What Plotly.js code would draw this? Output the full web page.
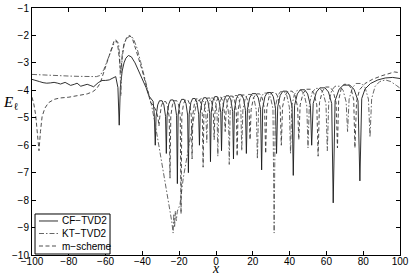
<!DOCTYPE html>
<html>
<head>
<meta charset="utf-8">
<script src="https://cdn.plot.ly/plotly-3.0.1.min.js"></script>
<style>html,body{margin:0;padding:0;background:#fff;}#chart{width:411px;height:278px;}</style>
</head>
<body>
<div id="chart"></div>
<script>
// ---- data ----
const seriesNames = ["CF\u2212TVD2", "KT\u2212TVD2", "m\u2212scheme"];
const xTicks = [-100, -80, -60, -40, -20, 0, 20, 40, 60, 80, 100];
const yTicks = [-10, -9, -8, -7, -6, -5, -4, -3, -2, -1];

const cfX = [-100,-98,-96,-94,-92,-90,-88,-86,-84.5,-82,-80,-79,-77,-75.5,-73.5,-71.5,-70,-68,-66.5,-64,-62,-60,-58,-56,-54.5,-53.3,-52.6,-52,-51,-50,-49,-47.6,-46,-44,-42,-40,-38,-36.5,-35.5,-34.2,-33.6,-33,
 -32.58,-31.68,-30.72,-29.28,-28.32,-27.42,-27,
 -26.58,-25.68,-24.72,-23.28,-22.32,-21.42,-21,
 -20.58,-19.68,-18.72,-17.28,-16.32,-15.42,-15,
 -14.58,-13.68,-12.72,-11.28,-10.32,-9.42,-9,
 -8.58,-7.68,-6.72,-5.28,-4.32,-3.42,-3,
 -2.58,-1.68,-0.72,0.72,1.68,2.58,3,
 3.46,4.43,5.47,7.03,8.07,9.05,9.5,
 9.99,11.04,12.16,13.84,14.96,16.01,16.5,
 17.08,18.33,19.65,21.65,22.97,24.22,24.8,
 25.37,26.58,27.88,29.82,31.12,32.33,32.9,
 33.54,34.9,36.36,38.54,40.0,41.36,42,
 42.7,44.2,45.8,48.2,49.8,51.3,52,
 52.82,54.57,56.45,59.25,61.13,62.88,63.7,
 64.72,66.89,69.21,72.69,75.01,77.19,78.2,
 79.2,81,84,88,92,96,100];
const cfY = [-3.60,-3.63,-3.68,-3.72,-3.74,-3.73,-3.71,-3.74,-3.77,-3.71,-3.77,-3.82,-3.78,-3.74,-3.85,-3.80,-3.78,-3.83,-3.87,-3.72,-3.64,-3.64,-3.62,-3.55,-3.50,-3.90,-5.27,-3.90,-3.30,-3.00,-2.83,-2.73,-2.78,-3.00,-3.30,-3.60,-3.90,-4.20,-4.30,-4.40,-4.80,-6.00,
 -4.95,-4.53,-4.38,-4.38,-4.53,-4.95,-6.3,
 -4.92,-4.50,-4.35,-4.35,-4.50,-4.92,-7.4,
 -4.90,-4.48,-4.33,-4.33,-4.48,-4.90,-7.0,
 -4.87,-4.45,-4.30,-4.30,-4.45,-4.87,-6.0,
 -4.84,-4.42,-4.27,-4.27,-4.42,-4.84,-6.6,
 -4.80,-4.38,-4.23,-4.23,-4.38,-4.80,-6.2,
 -4.77,-4.35,-4.20,-4.20,-4.35,-4.77,-6.5,
 -4.73,-4.31,-4.16,-4.16,-4.31,-4.73,-6.3,
 -4.69,-4.27,-4.12,-4.12,-4.27,-4.69,-6.9,
 -4.65,-4.23,-4.08,-4.08,-4.23,-4.65,-6.3,
 -4.60,-4.18,-4.03,-4.03,-4.18,-4.60,-7.1,
 -4.55,-4.13,-3.98,-3.98,-4.13,-4.55,-6.0,
 -4.48,-4.06,-3.91,-3.91,-4.06,-4.48,-8.1,
 -4.38,-3.96,-3.81,-3.81,-3.96,-4.38,-7.3,
 -4.30,-3.95,-3.75,-3.62,-3.55,-3.53,-3.57];

const ktX = [-100,-95,-90,-85,-80,-75,-70,-65,-63,-61,-59,-57,-55.5,-54,-53,-52.4,-51.7,-51,-50,-48.5,-46.5,-45,-43,-41,-39,-37,-35,-33,-31,-29,-27,-25,-24,-23.3,-22.9,-22.5,-22.1,-21.6,-21,-19.6,-17.8,-16,-14,-12,-11,-10,-8,-6.5,-5.5,-5,
 -4.58,-3.68,-2.72,-1.28,-0.32,0.58,1,
 1.43,2.36,3.36,4.84,5.84,6.77,7.2,
 7.68,8.7,9.78,11.42,12.5,13.52,14,
 14.6,15.87,17.23,19.27,20.63,21.9,22.5,
 23.14,24.5,25.96,28.14,29.6,30.96,31.6,
 32.22,33.56,34.98,37.12,38.54,39.88,40.5,
 41.17,42.59,44.11,46.39,47.91,49.34,50,
 50.74,52.31,53.99,56.51,58.19,59.77,60.5,
 61.27,62.92,64.68,67.32,69.08,70.73,71.5,
 72.35,74.18,76.14,79.06,81.02,82.85,83.7,
 84.6,86.5,89,92,95,98,100];
const ktY = [-3.42,-3.44,-3.46,-3.47,-3.48,-3.49,-3.50,-3.50,-3.46,-3.25,-2.90,-2.55,-2.30,-2.20,-2.28,-2.70,-4.20,-2.70,-2.30,-2.10,-2.02,-2.10,-2.45,-2.95,-3.45,-4.00,-4.55,-5.25,-6.00,-6.75,-7.55,-8.40,-8.80,-9.20,-8.50,-9.00,-8.40,-8.75,-8.40,-8.17,-7.20,-6.50,-5.70,-5.00,-4.60,-4.40,-4.30,-4.45,-4.85,-5.90,
 -4.85,-4.43,-4.28,-4.28,-4.43,-4.85,-6.4,
 -4.80,-4.38,-4.23,-4.23,-4.38,-4.80,-6.7,
 -4.76,-4.34,-4.19,-4.19,-4.34,-4.76,-6.2,
 -4.72,-4.30,-4.15,-4.15,-4.30,-4.72,-6.5,
 -4.67,-4.25,-4.10,-4.10,-4.25,-4.67,-9.2,
 -4.62,-4.20,-4.05,-4.05,-4.20,-4.62,-6.3,
 -4.57,-4.15,-4.00,-4.00,-4.15,-4.57,-6.1,
 -4.50,-4.08,-3.93,-3.93,-4.08,-4.50,-6.2,
 -4.42,-4.00,-3.85,-3.85,-4.00,-4.42,-5.5,
 -4.32,-3.90,-3.75,-3.75,-3.90,-4.32,-5.7,
 -4.30,-3.85,-3.68,-3.62,-3.68,-3.82,-3.92];

const msX = [-100,-99,-98,-97,-96.2,-95.4,-94.5,-93,-91,-88,-85,-80,-75,-70,-67,-65,-63,-61,-59,-57,-55.5,-54.5,-53.5,-52.6,-51.8,-51,-50,-48.5,-47,-45.5,-44,-42,-40,-38,-36.5,-35.5,-34,-32.5,-31.5,-31,
 -30.58,-29.68,-28.72,-27.28,-26.32,-25.42,-25,
 -24.58,-23.68,-22.72,-21.28,-20.32,-19.42,-19,
 -18.58,-17.68,-16.72,-15.28,-14.32,-13.42,-13,
 -12.58,-11.68,-10.72,-9.28,-8.32,-7.42,-7,
 -6.58,-5.68,-4.72,-3.28,-2.32,-1.42,-1,
 -0.58,0.32,1.28,2.72,3.68,4.58,5,
 5.46,6.43,7.47,9.03,10.07,11.05,11.5,
 11.99,13.04,14.16,15.84,16.96,18.01,18.5,
 19.1,20.37,21.73,23.77,25.13,26.4,27,
 27.6,28.87,30.23,32.27,33.63,34.9,35.5,
 36.17,37.59,39.11,41.39,42.91,44.34,45,
 45.74,47.31,48.99,51.51,53.19,54.77,55.5,
 56.24,57.81,59.49,62.01,63.69,65.27,66,
 66.67,68.09,69.61,71.89,73.41,74.84,75.5,
 76.4,78,81,85,90,95,97,100];
const msY = [-4.25,-4.50,-4.90,-5.50,-6.20,-5.50,-4.95,-4.65,-4.45,-4.33,-4.28,-4.25,-4.20,-4.13,-4.05,-3.95,-3.75,-3.35,-2.90,-2.50,-2.22,-2.15,-2.30,-2.80,-3.35,-2.80,-2.35,-2.06,-2.00,-2.10,-2.40,-2.85,-3.30,-3.80,-4.20,-4.45,-4.55,-4.75,-5.00,-5.30,
 -4.98,-4.56,-4.41,-4.41,-4.56,-4.98,-7.2,
 -4.95,-4.53,-4.38,-4.38,-4.53,-4.95,-8.5,
 -4.92,-4.50,-4.35,-4.35,-4.50,-4.92,-6.5,
 -4.88,-4.46,-4.31,-4.31,-4.46,-4.88,-6.8,
 -4.85,-4.43,-4.28,-4.28,-4.43,-4.85,-5.8,
 -4.82,-4.40,-4.25,-4.25,-4.40,-4.82,-5.5,
 -4.78,-4.36,-4.21,-4.21,-4.36,-4.78,-6.4,
 -4.74,-4.32,-4.17,-4.17,-4.32,-4.74,-5.8,
 -4.70,-4.28,-4.13,-4.13,-4.28,-4.70,-6.3,
 -4.65,-4.23,-4.08,-4.08,-4.23,-4.65,-6.0,
 -4.60,-4.18,-4.03,-4.03,-4.18,-4.60,-5.8,
 -4.53,-4.11,-3.96,-3.96,-4.11,-4.53,-6.4,
 -4.45,-4.03,-3.88,-3.88,-4.03,-4.45,-6.1,
 -4.35,-3.93,-3.78,-3.78,-3.93,-4.35,-6.1,
 -4.40,-3.98,-3.75,-3.60,-3.47,-3.36,-3.33,-3.36];

// ---- styles ----
const styles = [
  {color: "#1a1a1a", width: 0.9, dash: "solid"},
  {color: "#555555", width: 0.9, dash: "5px,2px,1.5px,2px"},
  {color: "#3a3a3a", width: 0.9, dash: "4px,2.5px"}
];

const traces = [
  {x: cfX, y: cfY, name: seriesNames[0], type: "scatter", mode: "lines", line: styles[0]},
  {x: ktX, y: ktY, name: seriesNames[1], type: "scatter", mode: "lines", line: styles[1]},
  {x: msX, y: msY, name: seriesNames[2], type: "scatter", mode: "lines", line: styles[2]}
];

const tickFont = {family: "Liberation Sans, Arial, sans-serif", size: 10, color: "#000"};
const axisCommon = {
  showgrid: false, zeroline: false, showline: true, linecolor: "#000", linewidth: 1,
  mirror: "ticks", ticks: "inside", ticklen: 4, tickcolor: "#000", tickwidth: 1,
  tickfont: tickFont, fixedrange: true
};

// legend drawn as shapes + annotations (paper coords)
const legRowsY = [0.1377, 0.087, 0.0364];
const shapes = [{type: "rect", xref: "paper", yref: "paper", x0: 0.0082, x1: 0.212, y0: 0.004, y1: 0.166,
  line: {color: "#000", width: 1}, fillcolor: "#fff", layer: "above"}];
const annotations = [
  {xref: "paper", yref: "paper", x: -0.058, y: 0.615, showarrow: false, xanchor: "center", yanchor: "middle",
   text: "<i>E</i><sub>\u2113</sub>", font: {family: "Liberation Serif, Times New Roman, serif", size: 15, color: "#000"}},
  {xref: "paper", yref: "paper", x: 0.5, y: -0.093, showarrow: false, xanchor: "center", yanchor: "bottom",
   text: "<i>x</i>", font: {family: "Liberation Serif, Times New Roman, serif", size: 14, color: "#000"}}
];
seriesNames.forEach((nm, i) => {
  shapes.push({type: "line", xref: "paper", yref: "paper", x0: 0.019, x1: 0.0707, y0: legRowsY[i], y1: legRowsY[i],
    line: styles[i], layer: "above"});
  annotations.push({xref: "paper", yref: "paper", x: 0.0761, y: legRowsY[i], showarrow: false,
    xanchor: "left", yanchor: "middle", text: nm, font: {family: "Liberation Sans, Arial, sans-serif", size: 10, color: "#000"}});
});

const layout = {
  width: 411, height: 278,
  margin: {l: 32, r: 11, t: 8, b: 23, pad: 0},
  paper_bgcolor: "#fff", plot_bgcolor: "#fff",
  showlegend: false,
  xaxis: Object.assign({}, axisCommon, {range: [-100, 100], tickvals: xTicks, ticklabelstandoff: -3}),
  yaxis: Object.assign({}, axisCommon, {range: [-10, -1], tickvals: yTicks}),
  shapes: shapes,
  annotations: annotations
};

Plotly.newPlot("chart", traces, layout, {staticPlot: true, displayModeBar: false});
</script>
</body>
</html>
